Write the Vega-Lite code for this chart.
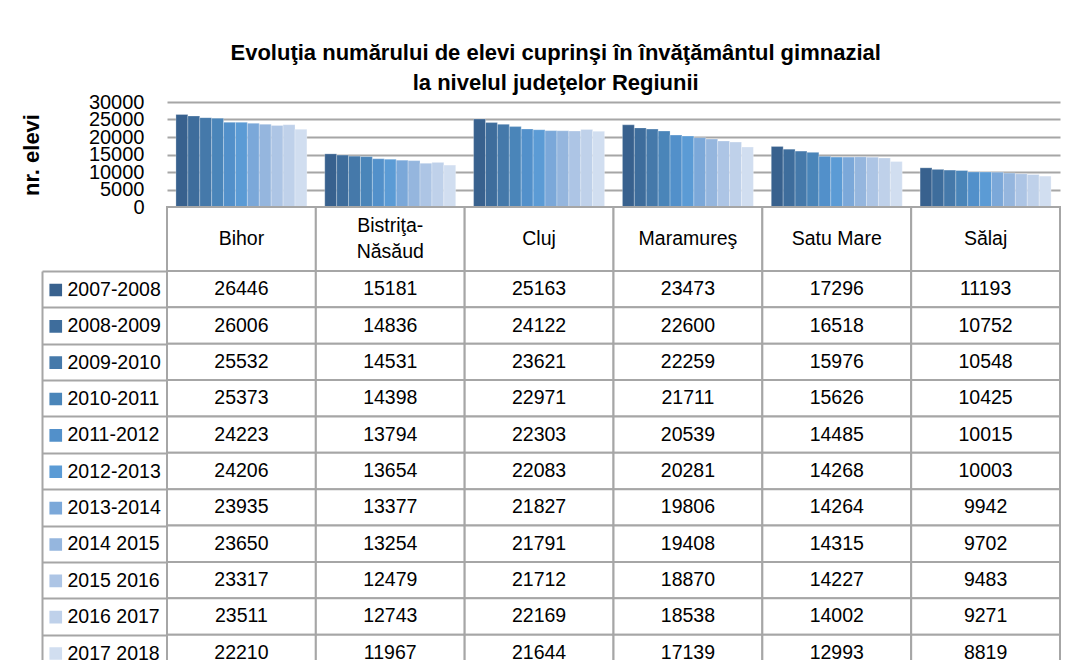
{
  "$schema": "https://vega.github.io/schema/vega-lite/v6.json",
  "background": "white",
  "padding": {"left": 20, "top": 42, "right": 5, "bottom": 0},
  "spacing": 0,
  "bounds": "flush",
  "title": {
    "text": ["Evoluţia numărului de elevi cuprinşi în învăţământul gimnazial", "la nivelul judeţelor Regiunii"],
    "font": "Liberation Sans",
    "fontSize": 22,
    "fontWeight": "bold",
    "color": "black",
    "anchor": "middle",
    "lineHeight": 30,
    "offset": -3,
    "dx": 15
  },
  "config": {"view": {"stroke": null}, "font": "Liberation Sans"},
  "resolve": {"scale": {"x": "independent", "y": "independent", "color": "shared"}},
  "datasets": {
    "elevi": [
      {"judet": "Bihor", "an": "2007-2008", "elevi": 26446},
      {"judet": "Bihor", "an": "2008-2009", "elevi": 26006},
      {"judet": "Bihor", "an": "2009-2010", "elevi": 25532},
      {"judet": "Bihor", "an": "2010-2011", "elevi": 25373},
      {"judet": "Bihor", "an": "2011-2012", "elevi": 24223},
      {"judet": "Bihor", "an": "2012-2013", "elevi": 24206},
      {"judet": "Bihor", "an": "2013-2014", "elevi": 23935},
      {"judet": "Bihor", "an": "2014 2015", "elevi": 23650},
      {"judet": "Bihor", "an": "2015 2016", "elevi": 23317},
      {"judet": "Bihor", "an": "2016 2017", "elevi": 23511},
      {"judet": "Bihor", "an": "2017 2018", "elevi": 22210},
      {"judet": "Bistriţa-Năsăud", "an": "2007-2008", "elevi": 15181},
      {"judet": "Bistriţa-Năsăud", "an": "2008-2009", "elevi": 14836},
      {"judet": "Bistriţa-Năsăud", "an": "2009-2010", "elevi": 14531},
      {"judet": "Bistriţa-Năsăud", "an": "2010-2011", "elevi": 14398},
      {"judet": "Bistriţa-Năsăud", "an": "2011-2012", "elevi": 13794},
      {"judet": "Bistriţa-Năsăud", "an": "2012-2013", "elevi": 13654},
      {"judet": "Bistriţa-Năsăud", "an": "2013-2014", "elevi": 13377},
      {"judet": "Bistriţa-Năsăud", "an": "2014 2015", "elevi": 13254},
      {"judet": "Bistriţa-Năsăud", "an": "2015 2016", "elevi": 12479},
      {"judet": "Bistriţa-Năsăud", "an": "2016 2017", "elevi": 12743},
      {"judet": "Bistriţa-Năsăud", "an": "2017 2018", "elevi": 11967},
      {"judet": "Cluj", "an": "2007-2008", "elevi": 25163},
      {"judet": "Cluj", "an": "2008-2009", "elevi": 24122},
      {"judet": "Cluj", "an": "2009-2010", "elevi": 23621},
      {"judet": "Cluj", "an": "2010-2011", "elevi": 22971},
      {"judet": "Cluj", "an": "2011-2012", "elevi": 22303},
      {"judet": "Cluj", "an": "2012-2013", "elevi": 22083},
      {"judet": "Cluj", "an": "2013-2014", "elevi": 21827},
      {"judet": "Cluj", "an": "2014 2015", "elevi": 21791},
      {"judet": "Cluj", "an": "2015 2016", "elevi": 21712},
      {"judet": "Cluj", "an": "2016 2017", "elevi": 22169},
      {"judet": "Cluj", "an": "2017 2018", "elevi": 21644},
      {"judet": "Maramureş", "an": "2007-2008", "elevi": 23473},
      {"judet": "Maramureş", "an": "2008-2009", "elevi": 22600},
      {"judet": "Maramureş", "an": "2009-2010", "elevi": 22259},
      {"judet": "Maramureş", "an": "2010-2011", "elevi": 21711},
      {"judet": "Maramureş", "an": "2011-2012", "elevi": 20539},
      {"judet": "Maramureş", "an": "2012-2013", "elevi": 20281},
      {"judet": "Maramureş", "an": "2013-2014", "elevi": 19806},
      {"judet": "Maramureş", "an": "2014 2015", "elevi": 19408},
      {"judet": "Maramureş", "an": "2015 2016", "elevi": 18870},
      {"judet": "Maramureş", "an": "2016 2017", "elevi": 18538},
      {"judet": "Maramureş", "an": "2017 2018", "elevi": 17139},
      {"judet": "Satu Mare", "an": "2007-2008", "elevi": 17296},
      {"judet": "Satu Mare", "an": "2008-2009", "elevi": 16518},
      {"judet": "Satu Mare", "an": "2009-2010", "elevi": 15976},
      {"judet": "Satu Mare", "an": "2010-2011", "elevi": 15626},
      {"judet": "Satu Mare", "an": "2011-2012", "elevi": 14485},
      {"judet": "Satu Mare", "an": "2012-2013", "elevi": 14268},
      {"judet": "Satu Mare", "an": "2013-2014", "elevi": 14264},
      {"judet": "Satu Mare", "an": "2014 2015", "elevi": 14315},
      {"judet": "Satu Mare", "an": "2015 2016", "elevi": 14227},
      {"judet": "Satu Mare", "an": "2016 2017", "elevi": 14002},
      {"judet": "Satu Mare", "an": "2017 2018", "elevi": 12993},
      {"judet": "Sălaj", "an": "2007-2008", "elevi": 11193},
      {"judet": "Sălaj", "an": "2008-2009", "elevi": 10752},
      {"judet": "Sălaj", "an": "2009-2010", "elevi": 10548},
      {"judet": "Sălaj", "an": "2010-2011", "elevi": 10425},
      {"judet": "Sălaj", "an": "2011-2012", "elevi": 10015},
      {"judet": "Sălaj", "an": "2012-2013", "elevi": 10003},
      {"judet": "Sălaj", "an": "2013-2014", "elevi": 9942},
      {"judet": "Sălaj", "an": "2014 2015", "elevi": 9702},
      {"judet": "Sălaj", "an": "2015 2016", "elevi": 9483},
      {"judet": "Sălaj", "an": "2016 2017", "elevi": 9271},
      {"judet": "Sălaj", "an": "2017 2018", "elevi": 8819}
    ],
    "judete": [
      {"judet": "Bihor", "eticheta": "Bihor"},
      {"judet": "Bistriţa-Năsăud", "eticheta": "Bistriţa-\nNăsăud"},
      {"judet": "Cluj", "eticheta": "Cluj"},
      {"judet": "Maramureş", "eticheta": "Maramureş"},
      {"judet": "Satu Mare", "eticheta": "Satu Mare"},
      {"judet": "Sălaj", "eticheta": "Sălaj"}
    ]
  },
  "vconcat": [
    {
      "width": 893,
      "height": 105,
      "data": {"name": "elevi"},
      "mark": {"type": "bar", "stroke": "white", "strokeWidth": 0.6, "strokeOpacity": 0.45},
      "encoding": {
        "x": {"field": "judet", "type": "nominal", "sort": ["Bihor", "Bistriţa-Năsăud", "Cluj", "Maramureş", "Satu Mare", "Sălaj"], "scale": {"paddingInner": 0.12, "paddingOuter": 0.06}, "axis": null},
        "xOffset": {"field": "an", "type": "nominal", "sort": ["2007-2008", "2008-2009", "2009-2010", "2010-2011", "2011-2012", "2012-2013", "2013-2014", "2014 2015", "2015 2016", "2016 2017", "2017 2018"], "scale": {"paddingInner": 0, "paddingOuter": 0}},
        "y": {
          "field": "elevi", "type": "quantitative",
          "scale": {"domain": [0, 30000]},
          "axis": {
            "values": [0, 5000, 10000, 15000, 20000, 25000, 30000],
            "format": "d",
            "title": "nr. elevi",
            "titleFont": "Liberation Sans", "titleFontSize": 22, "titleFontWeight": "bold", "titleColor": "black",
            "titlePadding": 45,
            "labelFont": "Liberation Sans", "labelFontSize": 20, "labelColor": "black", "labelPadding": 23,
            "labelOverlap": false, "labelFlush": false, "labelBound": false,
            "ticks": false, "domain": false,
            "gridColor": "#A6A6A6", "gridWidth": 2
          }
        },
        "color": {
          "field": "an", "type": "nominal",
          "scale": {
            "domain": ["2007-2008", "2008-2009", "2009-2010", "2010-2011", "2011-2012", "2012-2013", "2013-2014", "2014 2015", "2015 2016", "2016 2017", "2017 2018"],
            "range": ["#38618E", "#3E6D9C", "#4579AA", "#4A85B9", "#5290CA", "#5B9BD5", "#7BA8D9", "#95B6DE", "#ADC5E5", "#BFD1EA", "#D1DEF0"]
          },
          "legend": {
            "orient": "none", "legendX": -121, "legendY": 170,
            "title": null, "padding": 0,
            "symbolType": "square", "symbolSize": 160, "symbolStrokeWidth": 0, "symbolOpacity": 1,
            "labelFont": "Liberation Sans", "labelFontSize": 19.5, "labelColor": "black", "labelOffset": 2, "labelLimit": 200,
            "rowPadding": 0.36, "clipHeight": 35.9
          }
        }
      }
    },
    {
      "width": 893,
      "height": 64,
      "data": {"name": "judete"},
      "encoding": {
        "x": {"field": "judet", "type": "nominal", "sort": ["Bihor", "Bistriţa-Năsăud", "Cluj", "Maramureş", "Satu Mare", "Sălaj"], "scale": {"paddingInner": 0, "paddingOuter": 0}, "axis": null}
      },
      "layer": [
        {"mark": {"type": "rect", "fill": "white", "stroke": "#A6A6A6", "strokeWidth": 2}},
        {
          "transform": [{"filter": "datum.judet != 'Bistriţa-Năsăud'"}],
          "mark": {"type": "text", "font": "Liberation Sans", "fontSize": 19.5, "color": "black"},
          "encoding": {"text": {"field": "eticheta"}}
        },
        {
          "transform": [{"filter": "datum.judet == 'Bistriţa-Năsăud'"}],
          "mark": {"type": "text", "font": "Liberation Sans", "fontSize": 19.5, "color": "black", "lineBreak": "\n", "lineHeight": 26, "dy": -13},
          "encoding": {"text": {"field": "eticheta"}}
        }
      ]
    },
    {
      "width": 893,
      "height": 400,
      "data": {"name": "elevi"},
      "encoding": {
        "x": {"field": "judet", "type": "nominal", "sort": ["Bihor", "Bistriţa-Năsăud", "Cluj", "Maramureş", "Satu Mare", "Sălaj"], "scale": {"paddingInner": 0, "paddingOuter": 0}, "axis": null},
        "y": {
          "field": "an", "type": "nominal",
          "sort": ["2007-2008", "2008-2009", "2009-2010", "2010-2011", "2011-2012", "2012-2013", "2013-2014", "2014 2015", "2015 2016", "2016 2017", "2017 2018"],
          "scale": {"paddingInner": 0, "paddingOuter": 0},
          "axis": {"title": null, "labels": false, "domain": true, "domainColor": "#A6A6A6", "domainWidth": 2, "ticks": true, "tickBand": "extent", "tickSize": -125, "tickColor": "#A6A6A6", "tickWidth": 2, "offset": 125, "grid": false}
        }
      },
      "layer": [
        {"mark": {"type": "rect", "fill": "white", "stroke": "#A6A6A6", "strokeWidth": 2}},
        {"mark": {"type": "text", "font": "Liberation Sans", "fontSize": 19.5, "color": "black"}, "encoding": {"text": {"field": "elevi", "type": "quantitative", "format": "d"}}}
      ]
    }
  ]
}
